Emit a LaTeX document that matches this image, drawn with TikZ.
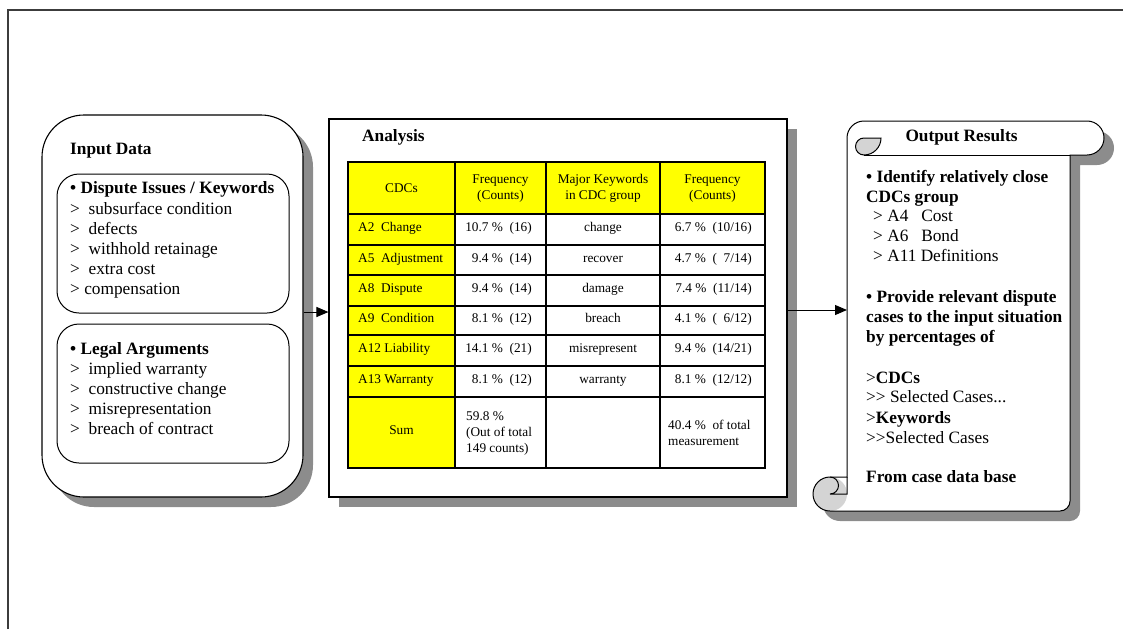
\documentclass[tikz,border=0pt]{standalone}
\usepackage{fontspec}
\setmainfont{Liberation Serif}
\usetikzlibrary{arrows.meta,shadows}

\definecolor{cellyellow}{RGB}{255,255,0}
\definecolor{shadowgray}{RGB}{140,140,140}
\definecolor{curlgray}{RGB}{212,212,212}
\definecolor{framegray}{RGB}{60,60,60}

\tikzset{
  boxshadow/.style={drop shadow={shadow xshift=10pt, shadow yshift=-10pt, fill=shadowgray, opacity=1}},
  panel/.style={draw=black, line width=1.1pt, fill=white, rounded corners=42pt, inner sep=0pt, boxshadow},
  subpanel/.style={draw=black, line width=1pt, fill=white, rounded corners=22pt, inner sep=0pt},
  sheet/.style={draw=black, line width=1.1pt, fill=white, inner sep=0pt, boxshadow},
  txt/.style={anchor=mid west, inner sep=0pt, font=\fontsize{17.3}{20}\selectfont},
  btxt/.style={anchor=mid west, inner sep=0pt, font=\fontsize{17.3}{20}\selectfont\bfseries},
  cell/.style={inner sep=0pt, font=\fontsize{13.3}{16}\selectfont},
  cellL/.style={cell, anchor=mid west},
  cellR/.style={cell, anchor=mid east},
  cellC/.style={cell, anchor=mid},
  gridline/.style={line width=1.2pt},
  boldline/.style={line width=2.2pt},
  arr/.style={line width=1pt, -{Triangle[length=12pt,width=10pt]}},
  outline/.style={draw=black, line width=1pt},
}

\begin{document}
\begin{tikzpicture}[x=1pt,y=-1pt]
\useasboundingbox (0,0) rectangle (1123,629);

% page frame
\draw[framegray, line width=1.3pt] (8,629) -- (8,10) -- (1123,10);

% ---------------- Input data panel ----------------
\node[panel, minimum width=261pt, minimum height=382pt] (input) at (172.5,306) {};
\node[btxt] (inputtitle) at (70,152) {Input Data};
\node[subpanel, minimum width=232pt, minimum height=139pt] (issues) at (173,243.5) {};
\node[subpanel, minimum width=232pt, minimum height=139pt] (legal) at (173,393.5) {};

\node[btxt] (is0) at (70,191) {• Dispute Issues / Keywords};
\node[txt]  (is1) at (70,212) {>\ \ subsurface condition};
\node[txt]  (is2) at (70,232) {>\ \ defects};
\node[txt]  (is3) at (70,252) {>\ \ withhold retainage};
\node[txt]  (is4) at (70,272) {>\ \ extra cost};
\node[txt]  (is5) at (70,292) {> compensation};

\node[btxt] (la0) at (70,352) {• Legal Arguments};
\node[txt]  (la1) at (70,372) {>\ \ implied warranty};
\node[txt]  (la2) at (70,392) {>\ \ constructive change};
\node[txt]  (la3) at (70,412) {>\ \ misrepresentation};
\node[txt]  (la4) at (70,432) {>\ \ breach of contract};

% ---------------- Analysis sheet ----------------
\node[sheet, minimum width=458pt, minimum height=378pt] (analysis) at (558,308) {};
\node[btxt] (antitle) at (362,139) {Analysis};

% table shading
\fill[cellyellow] (348,162) rectangle (765,214);
\fill[cellyellow] (348,214) rectangle (455,468);
% table rules
\foreach \yy in {214,245,275,306,335,397}
  \draw[gridline] (348,\yy) -- (765,\yy);
\draw[boldline] (348,366) -- (765,366);
\foreach \xx in {455,546,660}
  \draw[gridline] (\xx,162) -- (\xx,468);
\draw[boldline] (348,162) rectangle (765,468);

% header row
\node[cell, align=center] (h1) at (401.5,188.5) {CDCs};
\node[cell, align=center] (h2) at (500.5,188.5) {Frequency\\(Counts)};
\node[cell, align=center] (h3) at (603,188.5) {Major Keywords\\in CDC group};
\node[cell, align=center] (h4) at (712.5,188.5) {Frequency\\(Counts)};

% body rows
\node[cellL] (r1c1) at (358,229.5) {A2\ \ Change};
\node[cellR] (r1c2) at (532,229.5) {10.7 \%\ \ (16)};
\node[cellC] (r1c3) at (603,229.5) {change};
\node[cellR] (r1c4) at (752,229.5) {6.7 \%\ \ (10/16)};

\node[cellL] (r2c1) at (358,260) {A5\ \ Adjustment};
\node[cellR] (r2c2) at (532,260) {9.4 \%\ \ (14)};
\node[cellC] (r2c3) at (603,260) {recover};
\node[cellR] (r2c4) at (752,260) {4.7 \%\ \ (\phantom{1}7/14)};

\node[cellL] (r3c1) at (358,290.5) {A8\ \ Dispute};
\node[cellR] (r3c2) at (532,290.5) {9.4 \%\ \ (14)};
\node[cellC] (r3c3) at (603,290.5) {damage};
\node[cellR] (r3c4) at (752,290.5) {7.4 \%\ \ (11/14)};

\node[cellL] (r4c1) at (358,320.5) {A9\ \ Condition};
\node[cellR] (r4c2) at (532,320.5) {8.1 \%\ \ (12)};
\node[cellC] (r4c3) at (603,320.5) {breach};
\node[cellR] (r4c4) at (752,320.5) {4.1 \%\ \ (\phantom{1}6/12)};

\node[cellL] (r5c1) at (358,350.5) {A12 Liability};
\node[cellR] (r5c2) at (532,350.5) {14.1 \%\ \ (21)};
\node[cellC] (r5c3) at (603,350.5) {misrepresent};
\node[cellR] (r5c4) at (752,350.5) {9.4 \%\ \ (14/21)};

\node[cellL] (r6c1) at (358,381.5) {A13 Warranty};
\node[cellR] (r6c2) at (532,381.5) {8.1 \%\ \ (12)};
\node[cellC] (r6c3) at (603,381.5) {warranty};
\node[cellR] (r6c4) at (752,381.5) {8.1 \%\ \ (12/12)};

% sum row
\node[cellC] (s1) at (401.5,432) {Sum};
\node[cell, anchor=west, align=left] (s2) at (466,433) {59.8 \%\\(Out of total\\149 counts)};
\node[cell, anchor=west, align=left] (s4) at (668,432.5) {40.4 \%\ \ of total\\measurement};

% ---------------- Output scroll ----------------
% shadow
\fill[shadowgray, shift={(10,10)}]
  (847,138) -- (847,477) -- (830,477) arc (-90:-270:17) -- (1060,511) arc (90:0:10)
  -- (1070,155) -- (1087,155) arc (90:-90:17) -- (864,121) arc (-90:-180:17) -- cycle;
% sheet body
\fill[white]
  (847,138) -- (847,477) -- (830,477) arc (-90:-270:17) -- (1060,511) arc (90:0:10)
  -- (1070,155) -- (1087,155) arc (90:-90:17) -- (864,121) arc (-90:-180:17) -- cycle;
% rolled ends
\fill[curlgray] (830,494) circle (17);
\filldraw[fill=curlgray, outline] (864,138) -- (881,138) arc (0:90:17) arc (90:270:8.5) -- cycle;
% outline and roll edges
\draw[outline]
  (847,138) -- (847,477) -- (830,477) arc (-90:-270:17) -- (1060,511) arc (90:0:10)
  -- (1070,155) -- (1087,155) arc (90:-90:17) -- (864,121) arc (-90:-180:17) -- cycle;
\draw[outline] (864,155) -- (1070,155);
\draw[outline] (847,477) -- (847,494) -- (830,494) arc (90:-90:8.5);

\node[inner sep=0pt, minimum width=223pt, minimum height=356pt, anchor=north west] (output) at (847,155) {};

\node[btxt, anchor=mid] (outtitle) at (961.5,139) {Output Results};
\node[btxt] (o1)  at (866,180) {• Identify relatively close};
\node[btxt] (o2)  at (866,200) {CDCs group};
\node[txt]  (o3)  at (873,219) {> \makebox[34pt][l]{A4}Cost};
\node[txt]  (o4)  at (873,239) {> \makebox[34pt][l]{A6}Bond};
\node[txt]  (o5)  at (873,259) {> A11 Definitions};
\node[btxt] (o6)  at (866,300) {• Provide relevant dispute};
\node[btxt] (o7)  at (866,320) {cases to the input situation};
\node[btxt] (o8)  at (866,340) {by percentages of};
\node[txt]  (o9)  at (866,381) {>\textbf{CDCs}};
\node[txt]  (o10) at (866,400) {>{}> Selected Cases...};
\node[txt]  (o11) at (866,421) {>\textbf{Keywords}};
\node[txt]  (o12) at (866,441) {>{}>Selected Cases};
\node[btxt] (o13) at (866,480) {From case data base};

% ---------------- connectors ----------------
\draw[arr] (input.east |- 0,312) -- (analysis.west |- 0,312);
\draw[arr] (analysis.east |- 0,310) -- (output.west |- 0,310);

\end{tikzpicture}
\end{document}
